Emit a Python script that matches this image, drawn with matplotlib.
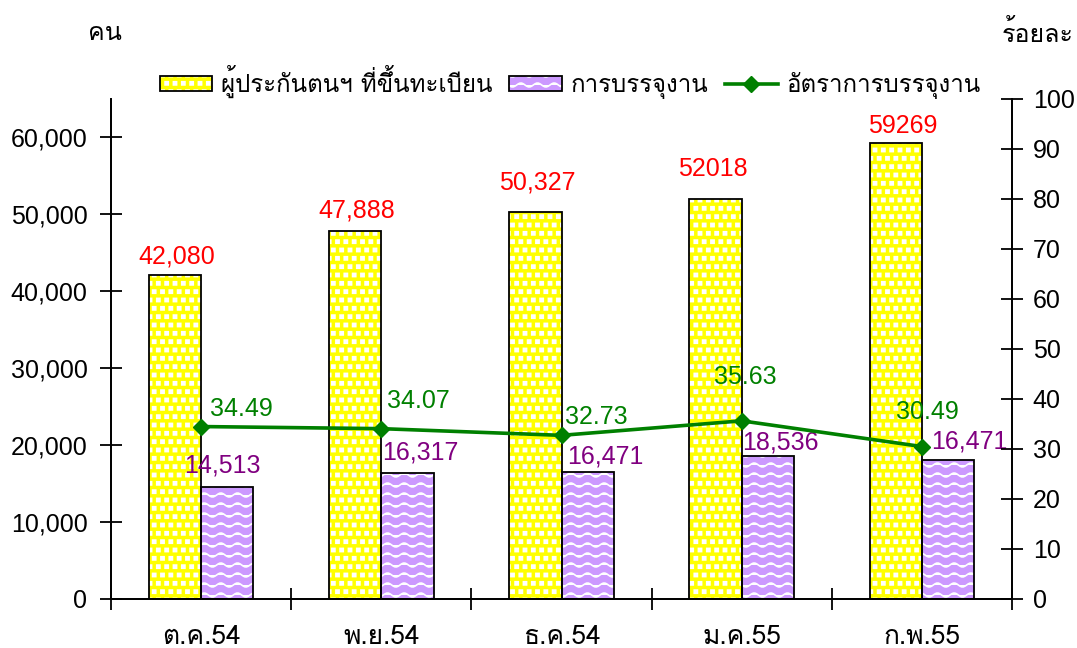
import numpy as np
import matplotlib
matplotlib.use('Agg')
import matplotlib.pyplot as plt
import matplotlib.hatch as mhatch
from matplotlib.path import Path
from matplotlib.patches import Patch
from matplotlib.lines import Line2D

# ---------------- data ----------------
months = ['ต.ค.54', 'พ.ย.54', 'ธ.ค.54', 'ม.ค.55', 'ก.พ.55']
registered = [42080, 47888, 50327, 52018, 59269]
placed = [14513, 16317, 16471, 18536, 18071]
rate = [34.49, 34.07, 32.73, 35.63, 30.49]
registered_labels = ['42,080', '47,888', '50,327', '52018', '59269']
placed_labels = ['14,513', '16,317', '16,471', '18,536', '16,471']
rate_labels = ['34.49', '34.07', '32.73', '35.63', '30.49']
legend_labels = ['ผู้ประกันตนฯ ที่ขึ้นทะเบียน', 'การบรรจุงาน', 'อัตราการบรรจุงาน']
left_unit = 'คน'
right_unit = 'ร้อยละ'
left_ticks = [0, 10000, 20000, 30000, 40000, 50000, 60000]
right_ticks = [0, 10, 20, 30, 40, 50, 60, 70, 80, 90, 100]

# label offsets in pixels (dx, dy) relative to mark top / point
reg_off = [(2, 19), (2, 20), (2, 29), (-3, 30), (7, 17)]
plc_off = [(-5, 22), (13, 21), (18, 16), (13, 14), (21, 18)]
rate_off = [(40, 18), (37, 28), (35, 18), (4, 44), (5, 35)]

# ---------------- custom hatches ----------------
class WaveHatch(mhatch.HatchPatternBase):
    npts = 61
    def __init__(self, hatch, density):
        self.num_lines = int(hatch.count('-') * density * 5 / 6)
        self.num_vertices = self.num_lines * self.npts
    def set_vertices_and_codes(self, vertices, codes):
        steps, stepsize = np.linspace(0.0, 1.0, self.num_lines, False, retstep=True)
        steps += stepsize / 2.
        xs = np.linspace(0, 1, self.npts)
        for i, s in enumerate(steps):
            v = vertices[i * self.npts:(i + 1) * self.npts]
            v[:, 0] = xs
            v[:, 1] = s + 0.02 * np.sin(2 * np.pi * 6 * xs)
            c = codes[i * self.npts:(i + 1) * self.npts]
            c[0] = Path.MOVETO
            c[1:] = Path.LINETO

class SquareDots(mhatch.Shapes):
    size = 0.38
    filled = True
    def __init__(self, hatch, density):
        self.num_rows = hatch.count('.') * density
        self.shape_vertices = np.array([[-0.5, -0.5], [0.5, -0.5], [0.5, 0.5],
                                        [-0.5, 0.5], [-0.5, -0.5]])
        self.shape_codes = np.array([Path.MOVETO, Path.LINETO, Path.LINETO,
                                     Path.LINETO, Path.CLOSEPOLY])
        super().__init__(hatch, density)

ht = list(mhatch._hatch_types)
ht[ht.index(mhatch.HorizontalHatch)] = WaveHatch
ht[ht.index(mhatch.SmallFilledCircles)] = SquareDots
mhatch._hatch_types[:] = ht

plt.rcParams['hatch.linewidth'] = 1.2
NUM = ['Liberation Sans', 'Loma', 'DejaVu Sans']
THAI = ['Loma', 'Liberation Sans', 'DejaVu Sans']
plt.rcParams['font.family'] = NUM

YELLOW = '#FFFF00'
PURPLE = '#CC99FF'
GREEN = '#008000'

fig = plt.figure(figsize=(10.77, 6.48), dpi=100)
W, H = 1077, 648
ax = fig.add_axes([111 / W, 1 - 599 / H, (1012 - 111) / W, (599 - 99) / H])
ax2 = ax.twinx()

x = np.arange(len(months))
bw = 0.29
ax.bar(x - bw / 2, registered, bw, color=YELLOW, edgecolor='white', hatch='..', linewidth=0, zorder=2)
ax.bar(x - bw / 2, registered, bw, fill=False, edgecolor='black', linewidth=1.3, zorder=3)
ax.bar(x + bw / 2, placed, bw, color=PURPLE, edgecolor='white', hatch='--', linewidth=0, zorder=2)
ax.bar(x + bw / 2, placed, bw, fill=False, edgecolor='black', linewidth=1.3, zorder=3)

ax.set_xlim(-0.5, len(months) - 0.5)
ax.set_ylim(0, 65000)
ax2.set_ylim(0, 100)

ax2.plot(x, rate, color=GREEN, linewidth=2.6, marker='D', markersize=8, zorder=5)

# labels
for i in range(len(months)):
    dx, dy = reg_off[i]
    ax.annotate(registered_labels[i], (x[i] - bw / 2, registered[i]), xytext=(dx, dy),
                textcoords='offset pixels', ha='center', va='center', color='#FF0000', fontsize=18)
    dx, dy = plc_off[i]
    ax.annotate(placed_labels[i], (x[i] + bw / 2, placed[i]), xytext=(dx, dy),
                textcoords='offset pixels', ha='center', va='center', color='#800080', fontsize=18)
    dx, dy = rate_off[i]
    ax2.annotate(rate_labels[i], (x[i], rate[i]), xytext=(dx, dy),
                 textcoords='offset pixels', ha='center', va='center', color=GREEN, fontsize=18, zorder=6)

ax2.set_zorder(1)
ax2.patch.set_visible(False)
for a in (ax, ax2):
    a.spines['top'].set_visible(False)
    for s in a.spines.values():
        s.set_linewidth(1.3)

ax.set_yticks(left_ticks)
ax.set_yticklabels([f'{v:,}' for v in left_ticks])
ax.tick_params(axis='y', direction='inout', length=16, width=1.3, labelsize=18, pad=9)
ax2.set_yticks(right_ticks)
ax2.set_yticklabels([str(v) for v in right_ticks])
ax2.tick_params(axis='y', direction='inout', length=16, width=1.3, labelsize=18, pad=7)

ax.set_xticks(x)
ax.set_xticklabels(months, family=THAI, fontsize=19)
ax.set_xticks(np.arange(-0.5, len(months), 1.0), minor=True)
ax.tick_params(axis='x', which='major', length=0, pad=19)
ax.tick_params(axis='x', which='minor', direction='inout', length=16, width=1.3)

fig.text(88 / W, 1 - 33 / H, left_unit, family=THAI, fontsize=18, va='center', ha='left')
fig.text(1074 / W, 1 - 33 / H, right_unit, family=THAI, fontsize=18, va='center', ha='right')

h1 = (Patch(facecolor=YELLOW, edgecolor='white', hatch='..', linewidth=0),
      Patch(fill=False, edgecolor='black', linewidth=1.3))
h2 = (Patch(facecolor=PURPLE, edgecolor='white', hatch='--', linewidth=0),
      Patch(fill=False, edgecolor='black', linewidth=1.3))
h3 = Line2D([], [], color=GREEN, linewidth=2.6, marker='D', markersize=8)
leg = fig.legend([h1, h2, h3], legend_labels, loc='center', bbox_to_anchor=(570 / W, 1 - 82 / H),
                 ncol=3, frameon=False, prop={'family': THAI, 'size': 17.3},
                 handlelength=2.2, handleheight=0.6, handletextpad=0.35, columnspacing=0.7,
                 borderpad=0)

fig.savefig('out.png', dpi=100)
